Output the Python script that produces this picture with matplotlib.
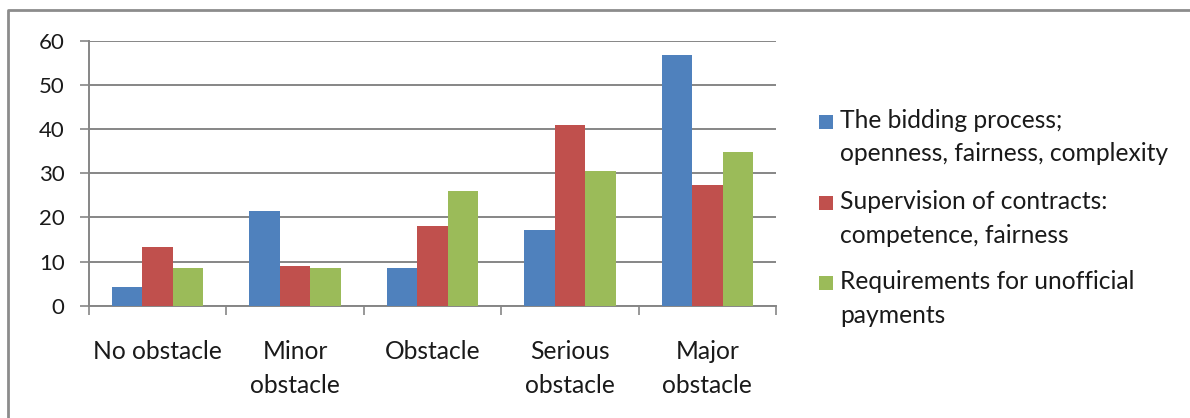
import matplotlib.pyplot as plt
from matplotlib.lines import Line2D
from matplotlib.patches import Rectangle
import numpy as np

plt.rcParams['font.family'] = ['Lato', 'DejaVu Sans']

categories = ["No obstacle", "Minor\nobstacle", "Obstacle", "Serious\nobstacle", "Major\nobstacle"]
series_names = [
    "The bidding process;\nopenness, fairness, complexity",
    "Supervision of contracts:\ncompetence, fairness",
    "Requirements for unofficial\npayments",
]
bidding = [4.2, 21.5, 8.5, 17.2, 56.8]
supervision = [13.4, 9.1, 18.1, 41.0, 27.4]
unofficial = [8.5, 8.5, 25.9, 30.6, 34.9]
colors = ["#4F81BD", "#C0504D", "#9BBB59"]

grey = "#868686"
text_col = "#1a1a1a"
label_size = 17.7

fig = plt.figure(figsize=(11.9, 4.18), dpi=100)
ax = fig.add_axes([89 / 1190, 1 - 305.7 / 418, (776 - 89) / 1190, (305.7 - 40.7) / 418])

x = np.arange(len(categories))
w = 0.222
for i, (vals, c) in enumerate(zip([bidding, supervision, unofficial], colors)):
    ax.bar(x + (i - 1) * w, vals, width=w, color=c, zorder=3)

ax.set_xlim(-0.5, len(categories) - 0.5)
ax.set_ylim(0, 60)
ax.set_yticks(range(0, 61, 10))
ax.yaxis.grid(True, color=grey, linewidth=1.4, zorder=0)

# category boundaries get the tick marks, names sit in between
ax.set_xticks(np.arange(-0.5, len(categories), 1.0))
ax.set_xticklabels([])
ax.set_xticks(x, minor=True)
ax.set_xticklabels(categories, minor=True, fontsize=label_size, color=text_col, linespacing=1.55)
ax.tick_params(axis='x', which='major', length=6.5, width=1.2, color=grey, direction='out')
ax.tick_params(axis='x', which='minor', length=0, pad=25)
ax.tick_params(axis='y', length=6.5, width=1.2, color=grey, pad=11, labelsize=16, labelcolor=text_col)

for side in ['top', 'right']:
    ax.spines[side].set_visible(False)
for side in ['left', 'bottom']:
    ax.spines[side].set_color(grey)
    ax.spines[side].set_linewidth(1.4)

# legend drawn by hand so the swatch sits beside the first line
legend_y = [121.7, 203, 283]
for name, c, ly in zip(series_names, colors, legend_y):
    fy = 1 - ly / 418
    fig.add_artist(Rectangle((819 / 1190, fy - 7 / 418), 14 / 1190, 14 / 418,
                             transform=fig.transFigure, facecolor=c, edgecolor='none'))
    fig.text(840 / 1190, fy - 15.5 / 418, name, fontsize=label_size, color=text_col,
             va='center', ha='left', linespacing=1.55)

# chart area frame
fig.add_artist(Line2D([7.5 / 1190, 7.5 / 1190, 1.0], [0.0, 1 - 10 / 418, 1 - 10 / 418],
                      transform=fig.transFigure, color="#8c8c8c", linewidth=2))

fig.savefig("out.png", dpi=100)
